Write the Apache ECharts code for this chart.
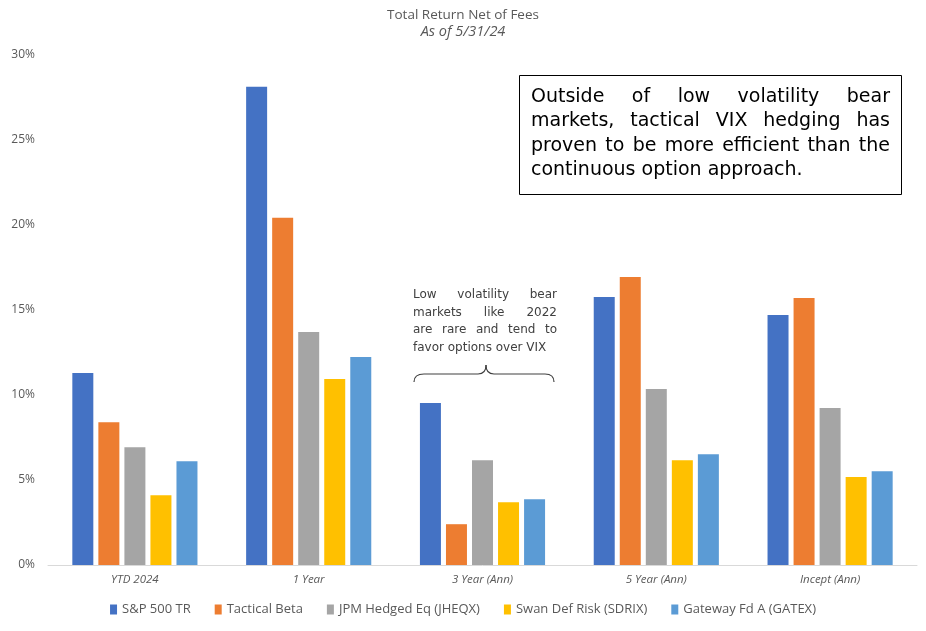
<!DOCTYPE html>
<html>
<head>
<meta charset="utf-8">
<script src="https://cdn.jsdelivr.net/npm/echarts@6/dist/echarts.min.js"></script>
<style>
  html, body { margin: 0; padding: 0; background: #fff; }
  #chart { width: 926px; height: 631px; }
</style>
</head>
<body>
<div id="chart"></div>
<script>
var periods = ['YTD 2024', '1 Year', '3 Year (Ann)', '5 Year (Ann)', 'Incept (Ann)'];
var names = ['S&P 500 TR', 'Tactical Beta', 'JPM Hedged Eq (JHEQX)', 'Swan Def Risk (SDRIX)', 'Gateway Fd A (GATEX)'];
var colors = ['#4472C4', '#ED7D31', '#A5A5A5', '#FFC000', '#5B9BD5'];
var spx = [11.29, 28.13, 9.53, 15.77, 14.71];
var tactical = [8.40, 20.42, 2.40, 16.94, 15.71];
var jheqx = [6.93, 13.70, 6.16, 10.35, 9.23];
var sdrix = [4.10, 10.94, 3.69, 6.16, 5.17];
var gatex = [6.11, 12.23, 3.87, 6.52, 5.52];
var boxLines = ['Outside of low volatility bear', 'markets, tactical VIX hedging has', 'proven to be more efficient than the', 'continuous option approach.'];
var noteLines = ['Low volatility bear', 'markets like 2022', 'are rare and tend to', 'favor options over VIX'];

var chart = echarts.init(document.getElementById('chart'));
var textColor = '#595959';
var font = '"Open Sans", "Noto Sans", sans-serif';

// lay words out so each line fills the width (last line left aligned)
function justify(lines, left, top, width, lh, fnt, color) {
    var ctx = document.createElement('canvas').getContext('2d');
    ctx.font = fnt;
    var els = [];
    lines.forEach(function (line, i) {
        var words = line.split(' ');
        var total = 0;
        words.forEach(function (w) { total += ctx.measureText(w).width; });
        var last = i === lines.length - 1;
        var gap = (last || words.length < 2) ? ctx.measureText(' ').width : (width - total) / (words.length - 1);
        var x = left;
        words.forEach(function (w) {
            els.push({
                type: 'text', x: x, y: top + i * lh, silent: true,
                style: { text: w, font: fnt, fill: color, verticalAlign: 'middle' }
            });
            x += ctx.measureText(w).width + gap;
        });
    });
    return els;
}

var data = [spx, tactical, jheqx, sdrix, gatex];
var series = [];
for (var i = 0; i < names.length; i++) {
    series.push({
        name: names[i],
        type: 'bar',
        data: data[i],
        itemStyle: { color: colors[i] },
        barGap: '24%',
        barCategoryGap: '28%'
    });
}

// curly brace under the note
var braceStyle = { fill: 'none', stroke: '#404040', lineWidth: 1.2 };
function curve(x1, y1, cx, cy, x2, y2) {
    return { type: 'bezierCurve', silent: true, shape: { x1: x1, y1: y1, cpx1: cx, cpy1: cy, x2: x2, y2: y2 }, style: braceStyle };
}
function seg(x1, y1, x2, y2) {
    return { type: 'line', silent: true, shape: { x1: x1, y1: y1, x2: x2, y2: y2 }, style: braceStyle };
}

var graphics = [
    {
        type: 'rect', silent: true,
        shape: { x: 519.5, y: 75.5, width: 382, height: 119 },
        style: { fill: '#fff', stroke: '#000', lineWidth: 1 }
    },
    curve(414, 382, 414, 374, 424, 374),
    seg(424, 374, 478, 374),
    curve(478, 374, 486, 374, 486, 365),
    curve(486, 365, 486, 374, 494, 374),
    seg(494, 374, 545, 374),
    curve(545, 374, 554, 374, 554, 382)
];
graphics = graphics.concat(justify(boxLines, 531, 97, 359, 24.5, '19px "DejaVu Sans", sans-serif', '#000'));
graphics = graphics.concat(justify(noteLines, 413, 295, 144, 17.5, '12px "DejaVu Sans", sans-serif', '#404040'));

chart.setOption({
    animation: false,
    textStyle: { fontFamily: font },
    title: {
        text: 'Total Return Net of Fees',
        subtext: 'As of 5/31/24',
        left: 'center',
        top: 3,
        itemGap: 2,
        textStyle: { fontSize: 13.5, fontWeight: 'normal', color: textColor, fontFamily: font },
        subtextStyle: { fontSize: 14.5, fontStyle: 'italic', color: textColor, fontFamily: font }
    },
    legend: {
        data: names,
        bottom: 10,
        left: 'center',
        itemWidth: 7,
        itemHeight: 10,
        itemGap: 24,
        icon: 'rect',
        textStyle: { fontSize: 13, color: textColor, fontFamily: font }
    },
    grid: { left: 48, right: 9, top: 55, bottom: 66 },
    xAxis: {
        type: 'category',
        data: periods,
        axisLine: { lineStyle: { color: '#D9D9D9', width: 1 } },
        axisTick: { show: false },
        axisLabel: { fontSize: 11.5, fontStyle: 'italic', color: textColor, margin: 9 }
    },
    yAxis: {
        type: 'value',
        min: 0,
        max: 30,
        interval: 5,
        splitLine: { show: false },
        axisLine: { show: false },
        axisTick: { show: false },
        axisLabel: { fontSize: 12, color: textColor, margin: 13, formatter: '{value}%' }
    },
    series: series,
    graphic: graphics
});
</script>
</body>
</html>
